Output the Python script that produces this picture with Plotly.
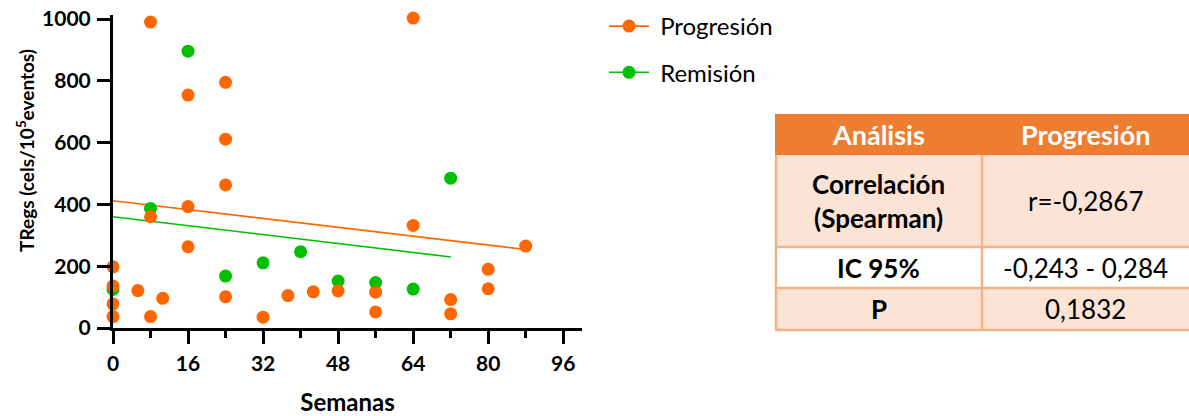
import plotly.graph_objects as go

# ---------------- data ----------------
prog_weeks = [8, 64, 16, 24, 24, 24, 16, 8, 16, 0, 0, 0, 0, 5.3, 10.6, 8, 24, 32,
              37.3, 42.7, 48, 56, 56, 64, 72, 72, 80, 80, 88]
prog_tregs = [990, 1003, 754, 795, 611, 463, 393, 360, 263, 198, 136, 78, 37, 121, 96, 37, 101, 35,
              105, 117, 120, 116, 52, 332, 92, 46, 190, 127, 265]
rem_weeks = [0, 8, 16, 24, 32, 40, 48, 56, 64, 72]
rem_tregs = [125, 387, 896, 168, 211, 247, 152, 147, 126, 485]

prog_fit_weeks = [0, 88]
prog_fit_tregs = [412, 254]
rem_fit_weeks = [0, 72]
rem_fit_tregs = [360, 230]

x_ticks = [0, 16, 32, 48, 64, 80, 96]
y_ticks = [0, 200, 400, 600, 800, 1000]

table_header = ["Análisis", "Progresión"]
table_rows = ["Correlación<br>(Spearman)", "IC 95%", "P"]
table_values = ["r=-0,2867", "-0,243 - 0,284", "0,1832"]

# ---------------- style ----------------
W, H = 1189, 416
ORANGE = "#FF6600"
GREEN = "#00C000"
FONT = "Lato"
GAP = "\u00a0"  # small gap between legend symbol and label


def fx(px):
    return px / W


def fy(py):
    return 1 - py / H


fig = go.Figure()

# fit lines
fig.add_trace(go.Scatter(x=rem_fit_weeks, y=rem_fit_tregs, mode="lines",
                         line=dict(color=GREEN, width=1.6), showlegend=False, hoverinfo="skip"))
fig.add_trace(go.Scatter(x=prog_fit_weeks, y=prog_fit_tregs, mode="lines",
                         line=dict(color=ORANGE, width=1.6), showlegend=False, hoverinfo="skip"))
# points
fig.add_trace(go.Scatter(x=rem_weeks, y=rem_tregs, mode="markers", name="Remisión",
                         marker=dict(color=GREEN, size=13), cliponaxis=False, showlegend=False))
fig.add_trace(go.Scatter(x=prog_weeks, y=prog_tregs, mode="markers", name="Progresión",
                         marker=dict(color=ORANGE, size=13), cliponaxis=False, showlegend=False))
# legend entries
fig.add_trace(go.Scatter(x=[None], y=[None], mode="lines+markers", name=GAP + "Progresión",
                         line=dict(color=ORANGE, width=1.6), marker=dict(color=ORANGE, size=13),
                         legendgroup="p", legendrank=1))
fig.add_trace(go.Scatter(x=[None], y=[None], mode="lines+markers", name=GAP + "Remisión",
                         line=dict(color=GREEN, width=1.6), marker=dict(color=GREEN, size=13),
                         legendgroup="r", legendrank=2))

axis_common = dict(showline=True, linecolor="black", linewidth=3, ticks="outside",
                   tickcolor="black", tickwidth=3, ticklen=13, showgrid=False, zeroline=False,
                   tickfont=dict(family=FONT, size=21, color="black", weight="bold"),
                   automargin=False)

fig.update_xaxes(domain=[fx(113), fx(582)], range=[0, 100], tickvals=x_ticks,
                 minor=dict(dtick=8, tick0=0, ticks="outside", ticklen=7, tickwidth=3, tickcolor="black"),
                 title=dict(text="Semanas", font=dict(family=FONT, size=24, color="black", weight="bold"),
                            standoff=20),
                 ticklabelstandoff=2, **axis_common)
fig.update_yaxes(domain=[fy(328), fy(15)], range=[0, 1013], tickvals=y_ticks,
                 ticklabelstandoff=2, **axis_common)

annotations = [dict(text="TRegs (cels/10<sup>5</sup>eventos)", x=fx(26), y=fy(151), xref="paper",
                    yref="paper", textangle=-90, showarrow=False, xanchor="center", yanchor="middle",
                    font=dict(family=FONT, size=19, color="black", weight="bold"))]
shapes = []

# ---------------- table ----------------
col_x = [775, 982, 1189]
row_y = [114, 155, 247, 288, 330]
BORDER = "#F4B183"
row_fill = ["#FBE4D5", "#FFFFFF", "#FBE4D5"]

shapes.append(dict(type="rect", xref="paper", yref="paper", x0=fx(col_x[0]), x1=fx(col_x[2]),
                   y0=fy(row_y[1]), y1=fy(row_y[0]), fillcolor="#ED7D31", line=dict(width=0), layer="below"))
for i, lbl in enumerate(table_header):
    annotations.append(dict(text=lbl, x=fx((col_x[i] + col_x[i + 1]) / 2), y=fy((row_y[0] + row_y[1]) / 2),
                            xref="paper", yref="paper", showarrow=False, xanchor="center", yanchor="middle",
                            font=dict(family=FONT, size=27, color="white", weight="bold")))
for r in range(len(table_rows)):
    y0, y1 = row_y[r + 1], row_y[r + 2]
    shapes.append(dict(type="rect", xref="paper", yref="paper", x0=fx(col_x[0]), x1=fx(col_x[2]),
                       y0=fy(y1), y1=fy(y0), fillcolor=row_fill[r], line=dict(width=0), layer="below"))
    annotations.append(dict(text=table_rows[r], x=fx((col_x[0] + col_x[1]) / 2), y=fy((y0 + y1) / 2),
                            xref="paper", yref="paper", showarrow=False, xanchor="center", yanchor="middle",
                            font=dict(family=FONT, size=26, color="black", weight="bold")))
    annotations.append(dict(text=table_values[r], x=fx((col_x[1] + col_x[2]) / 2), y=fy((y0 + y1) / 2),
                            xref="paper", yref="paper", showarrow=False, xanchor="center", yanchor="middle",
                            font=dict(family=FONT, size=26, color="black")))
    shapes.append(dict(type="line", xref="paper", yref="paper", x0=fx(col_x[0]), x1=fx(col_x[2]),
                       y0=fy(y1), y1=fy(y1), line=dict(color=BORDER, width=2.5)))
# vertical borders in body
for cx in [col_x[0] + 1, col_x[1]]:
    shapes.append(dict(type="line", xref="paper", yref="paper", x0=fx(cx), x1=fx(cx),
                       y0=fy(row_y[-1]), y1=fy(row_y[1]), line=dict(color=BORDER, width=2.5)))

fig.update_layout(
    width=W, height=H, margin=dict(l=0, r=0, t=0, b=0),
    paper_bgcolor="white", plot_bgcolor="white",
    legend=dict(x=fx(604), y=fy(4), xanchor="left", yanchor="top", tracegroupgap=12,
                font=dict(family=FONT, size=24, color="black"), bgcolor="rgba(0,0,0,0)",
                itemwidth=40),
    annotations=annotations, shapes=shapes,
)

fig.write_html("out.html")
